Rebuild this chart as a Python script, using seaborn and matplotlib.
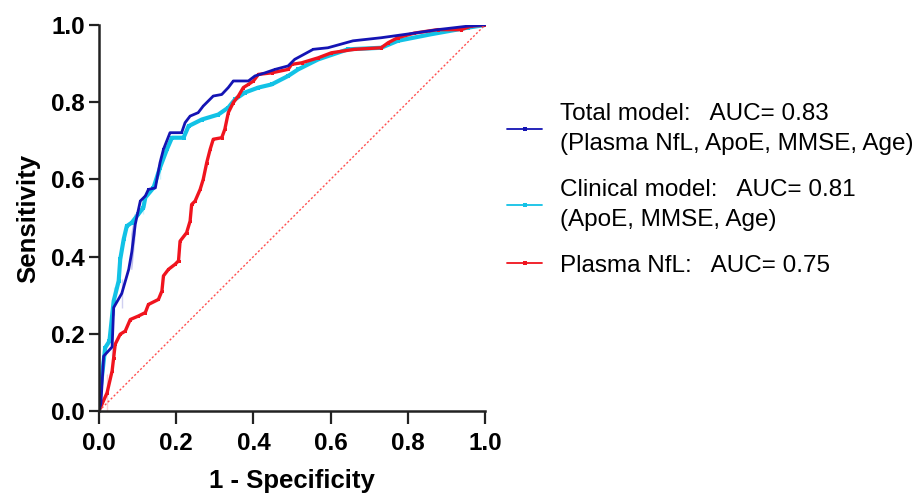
import matplotlib
matplotlib.use('Agg')
import matplotlib.pyplot as plt
import seaborn as sns
import pandas as pd
from matplotlib.lines import Line2D

# ROC curve corners (1 - specificity, sensitivity)
total_fpr = [0.0, 0.005, 0.012, 0.034, 0.034, 0.038, 0.059, 0.059, 0.077, 0.085, 0.085, 0.094,
             0.094, 0.107, 0.12, 0.128, 0.146, 0.15, 0.158, 0.167, 0.184, 0.214, 0.223, 0.236,
             0.257, 0.27, 0.296, 0.318, 0.335, 0.348, 0.387, 0.404, 0.43, 0.456, 0.49, 0.507,
             0.555, 0.593, 0.658, 0.731, 0.817, 0.878, 0.955, 1.0]
total_tpr = [0.0, 0.02, 0.142, 0.142, 0.19, 0.268, 0.268, 0.341, 0.367, 0.367, 0.458, 0.458,
             0.51, 0.544, 0.557, 0.574, 0.578, 0.60, 0.643, 0.678, 0.721, 0.721, 0.747, 0.764,
             0.773, 0.79, 0.816, 0.82, 0.838, 0.855, 0.855, 0.868, 0.876, 0.885, 0.894, 0.911,
             0.937, 0.941, 0.959, 0.967, 0.979, 0.988, 0.997, 1.0]

clinical_fpr = [0.0, 0.003, 0.003, 0.016, 0.027, 0.038, 0.038, 0.051, 0.055, 0.064, 0.072, 0.085,
                0.102, 0.115, 0.115, 0.12, 0.141, 0.158, 0.158, 0.176, 0.189, 0.219, 0.232,
                0.266, 0.309, 0.335, 0.352, 0.378, 0.413, 0.447, 0.49, 0.516, 0.568, 0.645,
                0.731, 0.774, 0.86, 0.955, 1.0]
clinical_tpr = [0.0, 0.0, 0.095, 0.164, 0.181, 0.25, 0.32, 0.337, 0.393, 0.445, 0.479, 0.488,
                0.51, 0.51, 0.544, 0.553, 0.578, 0.60, 0.661, 0.678, 0.708, 0.708, 0.738,
                0.755, 0.768, 0.786, 0.807, 0.825, 0.838, 0.846, 0.868, 0.885, 0.911, 0.937,
                0.941, 0.959, 0.976, 0.993, 1.0]

nfl_fpr = [0.0, 0.021, 0.021, 0.034, 0.038, 0.042, 0.055, 0.068, 0.081, 0.102, 0.12, 0.128,
           0.154, 0.163, 0.167, 0.18, 0.197, 0.206, 0.21, 0.227, 0.236, 0.24, 0.249, 0.262,
           0.27, 0.279, 0.288, 0.296, 0.318, 0.326, 0.335, 0.348, 0.361, 0.374, 0.387, 0.4,
           0.413, 0.447, 0.49, 0.499, 0.525, 0.568, 0.602, 0.662, 0.731, 0.749, 0.774, 0.817,
           0.878, 0.938, 0.964, 1.0]
nfl_tpr = [0.0, 0.0, 0.095, 0.104, 0.138, 0.173, 0.199, 0.207, 0.237, 0.246, 0.255, 0.276,
           0.289, 0.311, 0.35, 0.367, 0.38, 0.389, 0.44, 0.462, 0.492, 0.535, 0.544, 0.574,
           0.60, 0.643, 0.678, 0.704, 0.708, 0.73, 0.773, 0.799, 0.816, 0.838, 0.846, 0.855,
           0.872, 0.876, 0.885, 0.898, 0.902, 0.915, 0.928, 0.937, 0.941, 0.954, 0.967, 0.979,
           0.988, 0.988, 0.997, 1.0]

labels = ["Total model:   AUC= 0.83\n(Plasma NfL, ApoE, MMSE, Age)",
          "Clinical model:   AUC= 0.81\n(ApoE, MMSE, Age)",
          "Plasma NfL:   AUC= 0.75"]
colors = ["#1414B4", "#12C2E6", "#F0141E"]
widths = [2.0, 3.0, 2.4]

sns.set_style("ticks")
plt.rcParams['font.family'] = ['Liberation Sans', 'DejaVu Sans']
plt.rcParams['text.color'] = 'black'
plt.rcParams['xtick.color'] = 'black'
plt.rcParams['ytick.color'] = 'black'
plt.rcParams['axes.labelcolor'] = 'black'

fig = plt.figure(figsize=(9.19, 4.96), dpi=100)
ax = fig.add_axes([99 / 919, 1 - 411 / 496, 386 / 919, 386 / 496])

series = [(clinical_fpr, clinical_tpr, 1), (nfl_fpr, nfl_tpr, 2), (total_fpr, total_tpr, 0)]
for fpr, tpr, i in series:
    df = pd.DataFrame({"fpr": fpr, "tpr": tpr})
    sns.lineplot(data=df, x="fpr", y="tpr", sort=False, color=colors[i], lw=widths[i],
                 marker="s", markersize=widths[i] * 0.9, markeredgewidth=0, ax=ax)

# chance line
ax.plot([0, 1], [0, 1], color="#FF5050", lw=1.0, ls=(0, (1.5, 1.5)))

ax.set_xlim(0, 1.0)
ax.set_ylim(0, 1.0)
ticks = [0.0, 0.2, 0.4, 0.6, 0.8, 1.0]
ax.set_xticks(ticks)
ax.set_yticks(ticks)
ax.set_xticklabels(["{:.1f}".format(t) for t in ticks], fontsize=17.5, fontweight="bold")
ax.set_yticklabels(["{:.1f}".format(t) for t in ticks], fontsize=17.5, fontweight="bold")
ax.tick_params(direction="out", width=1.6, color="#222222")
ax.tick_params(axis="x", length=9, pad=6)
ax.tick_params(axis="y", length=7, pad=3)
for s in ["left", "bottom"]:
    ax.spines[s].set_linewidth(1.8)
    ax.spines[s].set_color("#222222")
sns.despine(ax=ax)
ax.set_xlabel("1 - Specificity", fontsize=18.5, fontweight="bold", labelpad=10)
ax.set_ylabel("Sensitivity", fontsize=18.5, fontweight="bold", labelpad=8)

leg_handles = [Line2D([0], [0], color=colors[i], lw=1.3, marker="s", markersize=2.5,
                      markeredgewidth=0) for i in range(3)]
leg = fig.legend(leg_handles, labels, loc="upper left", bbox_to_anchor=(507 / 919, 1 - 103 / 496),
                 frameon=False, fontsize=17.5, handlelength=1.45, handletextpad=0.75,
                 labelspacing=1.0, borderpad=0, borderaxespad=0, numpoints=1)
for t in leg.get_texts():
    t.set_linespacing(1.45)

fig.savefig("out.png", dpi=100)
